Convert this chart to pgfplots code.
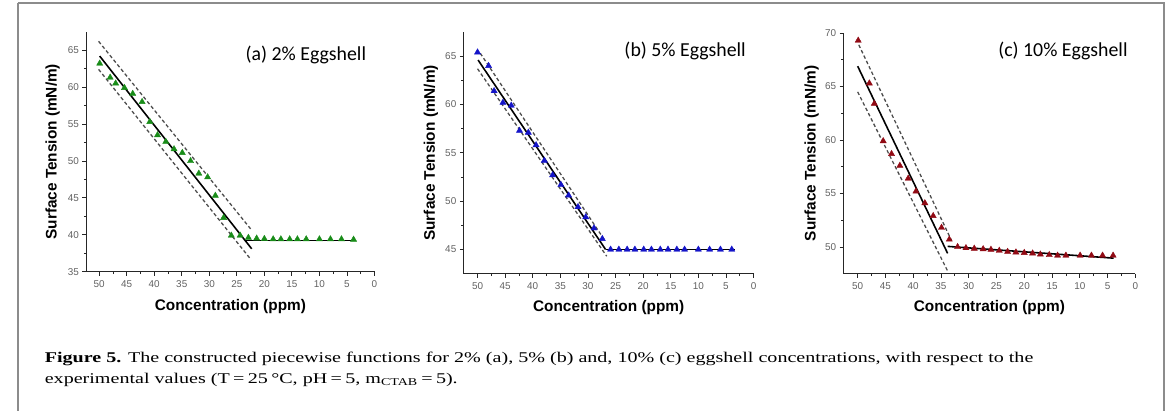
\documentclass[border=0pt]{standalone}
\usepackage{pgfplots}
\pgfplotsset{compat=1.18}
\usepackage{fontspec}
\setmainfont{Liberation Serif}
\setsansfont{Liberation Sans}
\newfontfamily\carlito{Carlito}
\newfontfamily\arial{Liberation Sans}
\definecolor{mgreen}{RGB}{25,140,25}
\definecolor{mblue}{RGB}{20,20,200}
\definecolor{mred}{RGB}{145,10,20}
\pgfplotsset{
  myaxis/.style={
    scale only axis, axis lines*=left, tick align=outside, x dir=reverse,
    xmin=0, xtick={0,5,...,50}, minor x tick num=1, minor y tick num=1,
    major tick length=4pt, minor tick length=2.5pt,
    axis line style={line width=0.9pt, black!85},
    every tick/.style={black!85, line width=0.8pt},
    tick label style={font=\arial\fontsize{10}{11}\selectfont, text=black!62},
    xticklabel style={yshift=-1.5pt},
    /pgf/number format/assume math mode=true,
    clip=false,
  },
  dat/.style={only marks, mark=triangle*, mark size=3.6pt, mark options={draw=#1, fill=#1}},
  fit/.style={black, line width=1.6pt, no marks},
  band/.style={black!70, line width=1.3pt, dash pattern=on 3.5pt off 2.5pt, no marks},
}
\newcommand{\xlab}{Concentration (ppm)}
\newcommand{\ylab}{Surface Tension (mN/m)}
\begin{document}
\newsavebox\capA
\newsavebox\capB
\sbox\capA{\fontsize{15}{18}\selectfont\textbf{Figure 5.} The constructed piecewise functions for 2\% (a), 5\% (b) and, 10\% (c) eggshell concentrations, with respect to the}
\sbox\capB{\fontsize{15}{18}\selectfont experimental values (T\,=\,25\,°C, pH\,=\,5, m\textsubscript{CTAB}\,=\,5).}
\newlength\capw
\setlength\capw{\wd\capA}
\pgfmathsetmacro\capscale{997/\capw}
\begin{tikzpicture}
% ---------- (a)
\begin{axis}[myaxis, at={(77pt,-274pt)}, anchor=south west, width=290.7pt, height=242pt,
  xmax=52.34, ymin=35, ymax=67.5, ytick={35,40,...,65}]
\addplot[band] coordinates {(50.1,66.2) (22.5,40.8)};
\addplot[band] coordinates {(50.1,62.4) (22.5,36.7)};
\addplot[fit] coordinates {(49.9,64.2) (22.3,38.1)};
\addplot[fit] coordinates {(23.4,39.2) (3.5,39.2)};
\addplot[dat=mgreen] coordinates {
(49.9,63.2) (48.0,61.3) (47.0,60.5) (45.4,59.9) (43.9,59.1) (42.2,58.0)
(40.8,55.3) (39.4,53.5) (37.9,52.6) (36.4,51.6) (34.9,51.1) (33.4,50.0)
(31.9,48.3) (30.3,47.8) (28.9,45.3) (27.4,42.3) (26.0,39.9) (24.4,39.9)
(22.9,39.6) (21.4,39.5) (20.0,39.45) (18.4,39.4) (17.0,39.4) (15.4,39.4)
(14.0,39.4) (12.4,39.4) (10.0,39.4) (8.0,39.4) (6.0,39.4) (3.8,39.35)};
\node[anchor=base, font=\arial\fontsize{15.5}{17}\selectfont\bfseries] at ([yshift=-39pt]rel axis cs:0.5,0) {\xlab};
\node[anchor=base, rotate=90, font=\arial\fontsize{15.5}{17}\selectfont\bfseries] at ([xshift=-30pt]rel axis cs:0,0.5) {\ylab};
\end{axis}
% ---------- (b)
\begin{axis}[myaxis, at={(457.7pt,-276pt)}, anchor=south west, width=292.3pt, height=243.7pt,
  xmax=52.5, ymin=42.5, ymax=67.5, ytick={45,50,...,65}]
\addplot[band] coordinates {(49.5,65.3) (26.9,45.9)};
\addplot[band] coordinates {(50.0,63.7) (26.6,44.3)};
\addplot[fit] coordinates {(49.9,64.6) (26.8,45.0)};
\addplot[fit] coordinates {(26.8,45.0) (3.4,45.0)};
\addplot[dat=mblue] coordinates {
(50.0,65.4) (48.0,64.0) (47.0,61.4) (45.4,60.2) (43.9,59.9) (42.4,57.3)
(40.8,57.1) (39.4,55.8) (37.9,54.2) (36.4,52.7) (34.9,51.7) (33.5,50.6)
(31.8,49.4) (30.4,48.35) (28.9,47.2) (27.4,46.1) (25.9,45.0) (24.4,45.0)
(22.9,45.0) (21.5,45.0) (19.9,45.0) (18.5,45.0) (16.9,45.0) (15.5,45.0)
(13.9,45.0) (12.5,45.0) (10.0,45.0) (7.96,45.0) (6.0,45.0) (3.95,45.0)};
\node[anchor=base, font=\arial\fontsize{15.5}{17}\selectfont\bfseries] at ([yshift=-38pt]rel axis cs:0.5,0) {\xlab};
\node[anchor=base, rotate=90, font=\arial\fontsize{15.5}{17}\selectfont\bfseries] at ([xshift=-29pt]rel axis cs:0,0.5) {\ylab};
\end{axis}
% ---------- (c)
\begin{axis}[myaxis, at={(840.7pt,-276pt)}, anchor=south west, width=294.3pt, height=242.7pt,
  xmax=52.55, ymin=47.5, ymax=70, ytick={50,55,...,70}]
\addplot[band] coordinates {(49.8,68.9) (33.1,50.6)};
\addplot[band] coordinates {(50.0,64.5) (33.75,47.7)};
\addplot[fit] coordinates {(50.0,66.9) (33.8,49.4)};
\addplot[fit] coordinates {(33.8,50.05) (3.9,48.95)};
\addplot[dat=mred] coordinates {
(49.9,69.3) (47.9,65.3) (47.0,63.4) (45.4,59.9) (43.9,58.7) (42.4,57.6)
(40.9,56.4) (39.5,55.2) (37.9,54.1) (36.4,52.9) (34.9,51.8) (33.5,50.7)
(32.0,50.0) (30.5,49.9) (29.0,49.85) (27.4,49.8) (26.0,49.75) (24.5,49.65)
(23.0,49.55) (21.5,49.5) (20.0,49.45) (18.5,49.4) (17.1,49.3) (15.5,49.25)
(14.0,49.2) (12.5,49.2) (9.94,49.2) (7.9,49.2) (5.9,49.2) (4.0,49.2)};
\node[anchor=base, font=\arial\fontsize{15.5}{17}\selectfont\bfseries] at ([yshift=-38pt]rel axis cs:0.5,0) {\xlab};
\node[anchor=base, rotate=90, font=\arial\fontsize{15.5}{17}\selectfont\bfseries] at ([xshift=-28pt]rel axis cs:0,0.5) {\ylab};
\end{axis}
% titles
\node[anchor=base, font=\carlito\fontsize{20}{22}\selectfont] at (298.5pt,-61pt) {(a) 2\% Eggshell};
\node[anchor=base, font=\carlito\fontsize{20}{22}\selectfont] at (681pt,-57pt) {(b) 5\% Eggshell};
\node[anchor=base, font=\carlito\fontsize{20}{22}\selectfont] at (1062pt,-57pt) {(c) 10\% Eggshell};
% caption
\node[anchor=base west, inner sep=0pt] at (35pt,-366pt) {\scalebox{\capscale}[1]{\usebox\capA}};
\node[anchor=base west, inner sep=0pt] at (35pt,-386.7pt) {\scalebox{\capscale}[1]{\usebox\capB}};
% frame
\draw[black!45, line width=1.5pt] (8pt,-3pt) -- (1164pt,-3pt) -- (1164pt,-430pt);
\draw[black!45, line width=1.5pt] (8pt,-3pt) -- (8pt,-430pt);
\pgfresetboundingbox
\useasboundingbox (0pt,0pt) rectangle (1171pt,-414pt);
\end{tikzpicture}
\end{document}
